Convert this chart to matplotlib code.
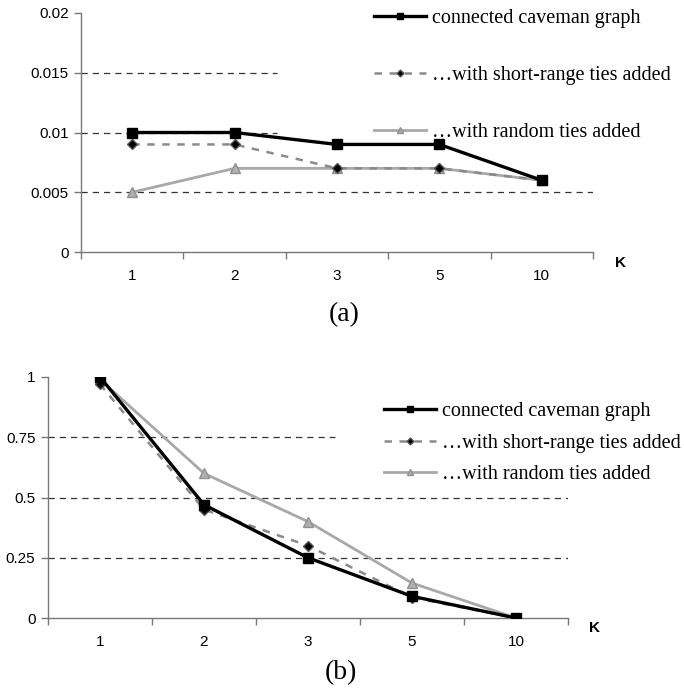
import matplotlib
matplotlib.use("Agg")
import matplotlib.pyplot as plt

categories = ["1", "2", "3", "5", "10"]
labels = ["connected caveman graph", "\u2026with short-range ties added", "\u2026with random ties added"]

a_connected = [0.010, 0.010, 0.009, 0.009, 0.006]
a_short = [0.009, 0.009, 0.007, 0.007, 0.006]
a_random = [0.005, 0.007, 0.007, 0.007, 0.006]

b_connected = [1.0, 0.47, 0.25, 0.09, 0.0]
b_short = [0.97, 0.45, 0.30, 0.085, 0.0]
b_random = [0.99, 0.60, 0.40, 0.145, 0.0]

a_yticks = [0, 0.005, 0.01, 0.015, 0.02]
a_yticklabels = ["0", "0.005", "0.01", "0.015", "0.02"]
b_yticks = [0, 0.25, 0.5, 0.75, 1.0]
b_yticklabels = ["0", "0.25", "0.5", "0.75", "1"]

SANS = "Liberation Sans"
SERIF = "Liberation Serif"

fig = plt.figure(figsize=(6.84, 6.90), dpi=100)


def make_panel(rect, ys, yticks, yticklabels, ylim, grid_partial, grid_full, partial_frac,
               legend_anchor, legend_spacing, panel_label, label_pos, k_pos):
    ax = fig.add_axes(rect)
    x = list(range(len(categories)))
    styles = [
        dict(color="black", lw=2.4, marker="s", ms=7, mfc="black", mec="black", ls="-", zorder=5),
        dict(color="#8a8a8a", lw=1.8, marker="D", ms=5, mfc="black", mec="#555555", ls=(0, (3, 3)), zorder=4),
        dict(color="#a8a8a8", lw=2.0, marker="^", ms=7, mfc="#b0b0b0", mec="#909090", ls="-", zorder=3),
    ]
    handles = []
    for yv, st, lab in zip(ys, styles, labels):
        h, = ax.plot(x, yv, label=lab, **st)
        handles.append(h)
    for g in grid_partial:
        ax.axhline(g, xmin=0, xmax=partial_frac, color="#333333", lw=0.9, ls=(0, (5, 4)), zorder=1)
    for g in grid_full:
        ax.axhline(g, xmin=0, xmax=1, color="#333333", lw=0.9, ls=(0, (5, 4)), zorder=1)
    ax.set_xlim(-0.5, len(categories) - 0.5)
    ax.set_ylim(*ylim)
    ax.set_xticks(x)
    ax.set_xticklabels(categories, fontfamily=SANS, fontsize=11)
    ax.set_xticks([i - 0.5 for i in range(len(categories) + 1)], minor=True)
    ax.tick_params(axis="x", which="major", length=0, pad=12)
    ax.tick_params(axis="x", which="minor", length=5, color="#777777", width=1)
    ax.set_yticks(yticks)
    ax.set_yticklabels(yticklabels, fontfamily=SANS, fontsize=11)
    ax.tick_params(axis="y", length=5, color="#777777", width=1, pad=4)
    for s in ["top", "right"]:
        ax.spines[s].set_visible(False)
    for s in ["left", "bottom"]:
        ax.spines[s].set_color("#777777")
        ax.spines[s].set_linewidth(1.0)
    ax.legend(handles=handles, loc="upper left", bbox_to_anchor=legend_anchor,
              bbox_transform=fig.transFigure, frameon=False,
              prop=dict(family=SERIF, size=14.5), handlelength=2.6, markerscale=0.7,
              handletextpad=0.3, labelspacing=legend_spacing, borderpad=0, borderaxespad=0)
    fig.text(label_pos[0], label_pos[1], panel_label, family=SERIF, fontsize=20,
             ha="center", va="center")
    fig.text(k_pos[0], k_pos[1], "K", family=SANS, fontsize=11, fontweight="bold",
             ha="center", va="center")
    return ax


make_panel([81 / 684, 1 - 252 / 690, 512 / 684, 239 / 690],
           [a_connected, a_short, a_random], a_yticks, a_yticklabels, (0, 0.02),
           [0.015, 0.01], [0.005], 196 / 512,
           (374 / 684, 1 - 9 / 690), 1.87, "(a)", (344 / 684, 1 - 315 / 690),
           (620 / 684, 1 - 263 / 690))

make_panel([48 / 684, 1 - 618 / 690, 520 / 684, 241 / 690],
           [b_connected, b_short, b_random], b_yticks, b_yticklabels, (0, 1.0),
           [0.75], [0.5, 0.25], 287 / 520,
           (384 / 684, 1 - 402 / 690), 0.62, "(b)", (341 / 684, 1 - 673 / 690),
           (595 / 684, 1 - 628 / 690))

fig.savefig("out.png", dpi=100, facecolor="white")
